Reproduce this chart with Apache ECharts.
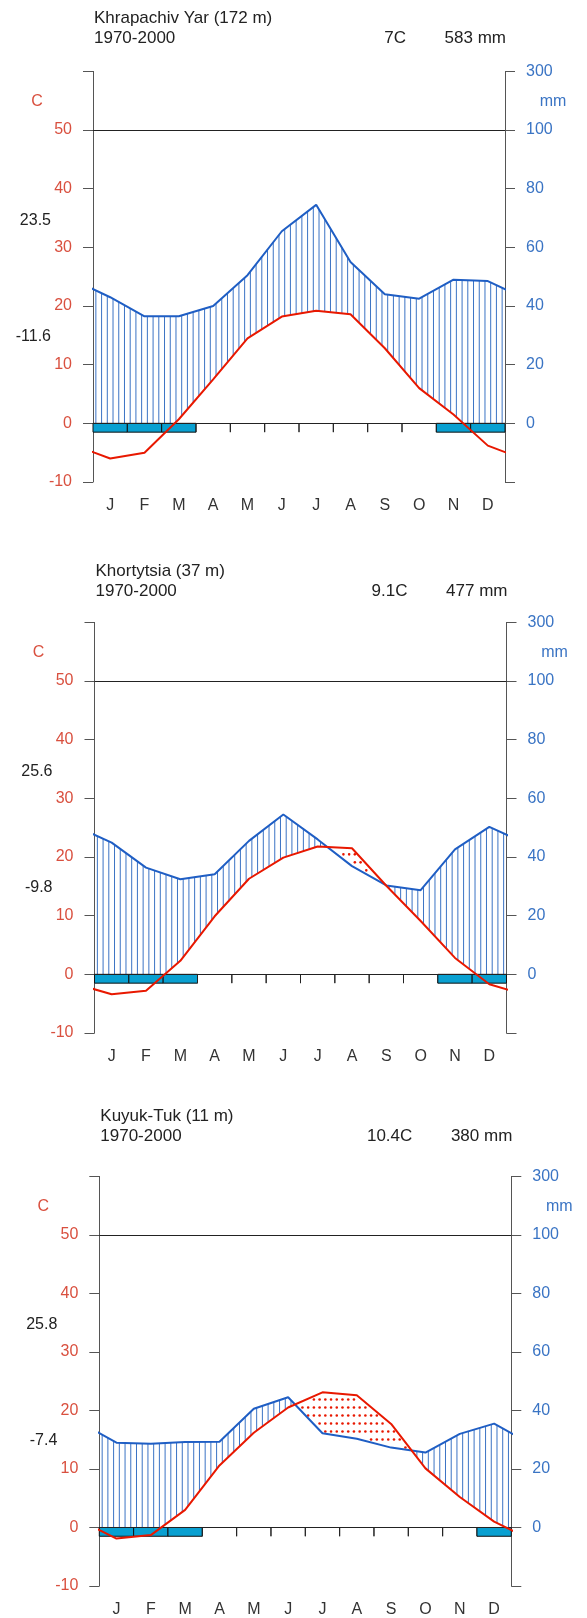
<!DOCTYPE html>
<html><head><meta charset="utf-8">
<script src="https://cdn.jsdelivr.net/npm/echarts@6/dist/echarts.min.js"></script>
<style>html,body{margin:0;padding:0;background:#fff}#c{width:587px;height:1618px}</style>
</head><body><div id="c"></div>
<script>
// ---------------- data ----------------
const months = ['J','F','M','A','M','J','J','A','S','O','N','D'];
const stationNames = ['Khrapachiv Yar (172 m)', 'Khortytsia (37 m)', 'Kuyuk-Tuk (11 m)'];
const periods = ['1970-2000', '1970-2000', '1970-2000'];
const meanTempLabels = ['7C', '9.1C', '10.4C'];
const totalPrecLabels = ['583 mm', '477 mm', '380 mm'];
const absMaxLabels = ['23.5', '25.6', '25.8'];
const absMinLabels = ['-11.6', '-9.8', '-7.4'];

// monthly mean temperature (C)
const tempKhrapachiv = [-6.0, -5.0, 0.7, 7.5, 14.5, 18.2, 19.2, 18.6, 12.8, 6.0, 1.5, -3.8];
const tempKhortytsia = [-3.4, -2.8, 2.3, 9.9, 16.3, 19.9, 21.8, 21.5, 15.1, 9.1, 2.8, -1.7];
const tempKuyukTuk   = [-1.9, -1.3, 3.0, 10.6, 16.2, 20.5, 23.1, 22.6, 17.7, 10.1, 5.2, 1.0];
// monthly precipitation (mm)
const precKhrapachiv = [43.0, 36.5, 36.5, 40.0, 50.5, 65.5, 74.5, 55.0, 44.0, 42.5, 49.0, 48.5];
const precKhortytsia = [44.9, 36.4, 32.4, 34.1, 45.5, 54.5, 46.0, 36.9, 30.3, 28.7, 42.6, 50.3];
const precKuyukTuk   = [29.0, 28.6, 29.2, 29.3, 40.6, 44.5, 32.2, 30.3, 27.3, 25.6, 32.0, 35.5];
// months with frost (1 = frost bar)
const frostKhrapachiv = [1,1,1,0,0,0,0,0,0,0,1,1];
const frostKhortytsia = [1,1,1,0,0,0,0,0,0,0,1,1];
const frostKuyukTuk   = [1,1,1,0,0,0,0,0,0,0,0,1];

// axis ticks
const tempTicks = [-10, 0, 10, 20, 30, 40, 50, 60];
const tempTickLabels = ['-10', '0', '10', '20', '30', '40', '50', ''];
const precTicks = [-20, 0, 20, 40, 60, 80, 100, 120];
const precTickLabels = ['', '0', '20', '40', '60', '80', '100', '300'];

// ---------------- layout ----------------
const temps = [tempKhrapachiv, tempKhortytsia, tempKuyukTuk];
const precs = [precKhrapachiv, precKhortytsia, precKuyukTuk];
const frosts = [frostKhrapachiv, frostKhortytsia, frostKuyukTuk];
const panels = [
  {left: 93,   width: 412, top: 71.4,   titleY: 18,   subY: 38},
  {left: 94.5, width: 412, top: 622.4,  titleY: 571,  subY: 591},
  {left: 99.3, width: 412, top: 1176.4, titleY: 1116, subY: 1136}
];
const PLOT_H = 410.6;
const FONT = '"Liberation Sans", Arial, sans-serif';
const TCOL = '#e81800', PCOL = '#1f5ec4', HCOL = '#3b73c4', FCOL = '#09a0d1';
const TLAB = '#d9503f', PLAB = '#3a74c4', AXC = '#555';

function precToC(p) { return p <= 100 ? p / 2 : 50 + (p - 100) / 20; }
function wrapPairs(vals) { // Dec before Jan and Jan after Dec, month centres
  const out = [[-0.5, vals[11]]];
  vals.forEach((v, i) => out.push([i + 0.5, v]));
  out.push([12.5, vals[0]]);
  return out;
}
function interpY(poly, px) {
  for (let j = 0; j < poly.length - 1; j++) {
    const a = poly[j], b = poly[j + 1];
    if (px >= a[0] && px <= b[0]) { const f = (px - a[0]) / (b[0] - a[0]); return a[1] + f * (b[1] - a[1]); }
  }
  return poly[poly.length - 1][1];
}
function hatchRenderer(temp, prec, perMonth) {
  return function (params, api) {
    const i = params.dataIndex;
    const tPoly = wrapPairs(temp).map(d => api.coord([d[0], d[1]]));
    const pPoly = wrapPairs(prec).map(d => api.coord([d[0], precToC(d[1])]));
    const zy = api.coord([0, 0])[1];
    const step = 8;
    const children = [];
    for (let k = 0; k < perMonth; k++) {
      const px = api.coord([i + (k + 0.5) / perMonth, 0])[0];
      const ty = interpY(tPoly, px), py = interpY(pPoly, px);
      if (py < ty) {
        const yb = Math.min(ty, zy);
        if (yb > py) children.push({type: 'line', shape: {x1: px, y1: py, x2: px, y2: yb}, style: {stroke: HCOL, lineWidth: 1}});
      } else if (ty < py) {
        const mMin = Math.ceil((zy - py) / step), mMax = Math.floor((zy - ty) / step);
        for (let m = mMin; m <= mMax; m++) {
          const yy = zy - m * step;
          if (yy > ty + 2 && yy < py - 2) children.push({type: 'circle', shape: {cx: px, cy: yy, r: 1.3}, style: {fill: TCOL}});
        }
      }
    }
    return {type: 'group', children};
  };
}
function frostRenderer(frost) {
  return function (params, api) {
    const i = params.dataIndex;
    const children = [];
    const a = api.coord([i, 0]), b = api.coord([i + 1, -1.5]);
    if (frost[i]) {
      children.push({type: 'rect', shape: {x: a[0], y: a[1], width: b[0] - a[0], height: b[1] - a[1]},
        style: {fill: FCOL, stroke: '#111', lineWidth: 1}});
    } else {
      if (i > 0) children.push({type: 'line', shape: {x1: a[0], y1: a[1], x2: a[0], y2: b[1]}, style: {stroke: '#222', lineWidth: 1}});
      if (i < 11) children.push({type: 'line', shape: {x1: b[0], y1: a[1], x2: b[0], y2: b[1]}, style: {stroke: '#222', lineWidth: 1}});
    }
    return {type: 'group', children};
  };
}

const grid = [], xAxis = [], yAxis = [], series = [];
panels.forEach((pn, p) => {
  grid.push({left: pn.left, top: pn.top, width: pn.width, height: PLOT_H, containLabel: false});
  xAxis.push({gridIndex: p, type: 'category', data: months, boundaryGap: true, position: 'bottom',
    axisLine: {show: false}, axisTick: {show: false}, splitLine: {show: false},
    axisLabel: {color: '#333', fontSize: 16, fontFamily: FONT, margin: 16, interval: 0}});
  xAxis.push({gridIndex: p, type: 'value', min: 0, max: 12, show: false});
  yAxis.push({gridIndex: p, type: 'value', position: 'left', min: -10, max: 60, interval: 10,
    axisLine: {show: true, lineStyle: {color: AXC, width: 1}},
    axisTick: {show: true, length: 10, lineStyle: {color: AXC}},
    splitLine: {show: false},
    axisLabel: {color: TLAB, fontSize: 16, fontFamily: FONT, margin: 21, showMinLabel: true, showMaxLabel: true,
      formatter: v => { const k = tempTicks.indexOf(v); return k >= 0 ? tempTickLabels[k] : ''; }}});
  yAxis.push({gridIndex: p, type: 'value', position: 'right', min: -20, max: 120, interval: 20,
    axisLine: {show: true, lineStyle: {color: AXC, width: 1}},
    axisTick: {show: true, length: 10, lineStyle: {color: AXC}},
    splitLine: {show: false},
    axisLabel: {color: PLAB, fontSize: 16, fontFamily: FONT, margin: 21, showMinLabel: true, showMaxLabel: true,
      formatter: v => { const k = precTicks.indexOf(v); return k >= 0 ? precTickLabels[k] : ''; }}});

  const temp = temps[p], prec = precs[p], frost = frosts[p];
  series.push({type: 'custom', name: 'hatch' + p, xAxisIndex: 2 * p + 1, yAxisIndex: 2 * p, z: 2,
    renderItem: hatchRenderer(temp, prec, 6), data: temp.map((t, i) => [i + 0.5, t, prec[i]]), silent: true});
  series.push({type: 'custom', name: 'frost' + p, xAxisIndex: 2 * p + 1, yAxisIndex: 2 * p, z: 3,
    renderItem: frostRenderer(frost), data: frost.map((f, i) => [i + 0.5, f]), silent: true});
  series.push({type: 'line', name: 'prec' + p, xAxisIndex: 2 * p + 1, yAxisIndex: 2 * p + 1, z: 4,
    data: wrapPairs(prec), showSymbol: false, symbol: 'none', clip: true, silent: true,
    lineStyle: {color: PCOL, width: 2}});
  series.push({type: 'line', name: 'temp' + p, xAxisIndex: 2 * p + 1, yAxisIndex: 2 * p, z: 5,
    data: wrapPairs(temp), showSymbol: false, symbol: 'none', clip: true, silent: true,
    lineStyle: {color: TCOL, width: 2},
    markLine: {silent: true, symbol: 'none', label: {show: false}, animation: false,
      lineStyle: {color: '#222', width: 1, type: 'solid'}, data: [{yAxis: 0}, {yAxis: 50}]}});
});

const chart = echarts.init(document.getElementById('c'), null, {renderer: 'canvas'});
chart.setOption({animation: false, backgroundColor: '#fff', grid, xAxis, yAxis, series});

const graphic = [];
panels.forEach((pn, p) => {
  const right = pn.left + pn.width;
  const tf = '16px ' + FONT;
  const hf = '17px ' + FONT;
  graphic.push({type: 'text', x: pn.left + 1, y: pn.titleY, style: {text: stationNames[p], font: hf, fill: '#222', textVerticalAlign: 'middle'}});
  graphic.push({type: 'text', x: pn.left + 1, y: pn.subY, style: {text: periods[p], font: hf, fill: '#222', textVerticalAlign: 'middle'}});
  graphic.push({type: 'text', x: right - 99, y: pn.subY, style: {text: meanTempLabels[p], font: hf, fill: '#222', textAlign: 'right', textVerticalAlign: 'middle'}});
  graphic.push({type: 'text', x: right + 1, y: pn.subY, style: {text: totalPrecLabels[p], font: hf, fill: '#222', textAlign: 'right', textVerticalAlign: 'middle'}});
  const y50 = chart.convertToPixel({yAxisIndex: 2 * p}, 50);
  const yMax = chart.convertToPixel({yAxisIndex: 2 * p}, 34.6);
  const yMin = chart.convertToPixel({yAxisIndex: 2 * p}, 14.8);
  graphic.push({type: 'text', x: pn.left - 56, y: y50 - 28, style: {text: 'C', font: tf, fill: TLAB, textAlign: 'center', textVerticalAlign: 'middle'}});
  graphic.push({type: 'text', x: right + 48, y: y50 - 28, style: {text: 'mm', font: tf, fill: PLAB, textAlign: 'center', textVerticalAlign: 'middle'}});
  graphic.push({type: 'text', x: pn.left - 42, y: yMax, style: {text: absMaxLabels[p], font: tf, fill: '#222', textAlign: 'right', textVerticalAlign: 'middle'}});
  graphic.push({type: 'text', x: pn.left - 42, y: yMin, style: {text: absMinLabels[p], font: tf, fill: '#222', textAlign: 'right', textVerticalAlign: 'middle'}});
});
chart.setOption({graphic});
</script>
</body></html>
